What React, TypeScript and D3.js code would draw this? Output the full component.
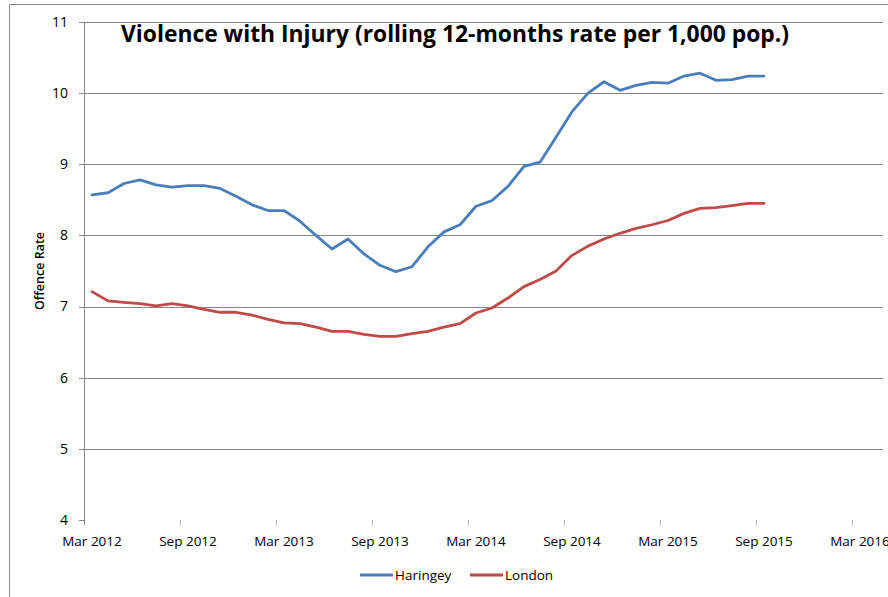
import React from "react";
import * as d3 from "d3";

const startMonth = new Date(2012, 2, 1); // Mar 2012
const haringey = [8.57, 8.60, 8.73, 8.78, 8.71, 8.68, 8.70, 8.70, 8.66, 8.55, 8.43, 8.35, 8.35, 8.20, 8.00, 7.81, 7.95, 7.74, 7.58, 7.49, 7.56, 7.84, 8.05, 8.15, 8.41, 8.49, 8.69, 8.97, 9.03, 9.38, 9.74, 10.00, 10.16, 10.04, 10.11, 10.15, 10.14, 10.24, 10.28, 10.18, 10.19, 10.24, 10.24];
const london = [7.21, 7.08, 7.06, 7.04, 7.01, 7.04, 7.01, 6.96, 6.92, 6.92, 6.88, 6.82, 6.77, 6.76, 6.71, 6.65, 6.65, 6.61, 6.58, 6.58, 6.62, 6.65, 6.71, 6.76, 6.91, 6.98, 7.12, 7.28, 7.38, 7.50, 7.72, 7.85, 7.95, 8.03, 8.10, 8.15, 8.21, 8.31, 8.38, 8.39, 8.42, 8.45, 8.45];
const xTickLabels = ["Mar 2012", "Sep 2012", "Mar 2013", "Sep 2013", "Mar 2014", "Sep 2014", "Mar 2015", "Sep 2015", "Mar 2016"];
const yTicks = [4, 5, 6, 7, 8, 9, 10, 11];
const seriesNames = ["Haringey", "London"];
const seriesColors = ["#4a7ebb", "#be4b48"];
const title = "Violence with Injury (rolling 12-months rate per 1,000 pop.)";
const yTitle = "Offence Rate";

const W = 888;
const H = 597;
const FONT = "'Open Sans', 'DejaVu Sans', sans-serif";

export default function App() {
  const months = haringey.map((_, i) => d3.timeMonth.offset(startMonth, i));
  const monthIndex = (d: Date) => d3.timeMonth.count(startMonth, d);
  const x = d3.scaleLinear().domain([0, 50]).range([84, 884]);
  const y = d3.scaleLinear().domain([4, 11]).range([520, 22]);

  const line = d3
    .line<[Date, number]>()
    .x((d) => x(monthIndex(d[0]) + 0.5))
    .y((d) => y(d[1]))
    .curve(d3.curveLinear);

  const series = [haringey, london].map((vals) =>
    vals.map((v, i) => [months[i], v] as [Date, number])
  );

  const gridColor = "#868686";

  return (
    <svg
      width={W}
      height={H}
      style={{ position: "absolute", left: 0, top: 0, background: "#fff" }}
      fontFamily={FONT}
    >
      <rect x={0} y={0} width={W} height={H} fill="#fff" />
      {/* chart border (left and top visible) */}
      <line x1={9.5} y1={4.5} x2={W} y2={4.5} stroke="#8a8a8a" strokeWidth={1} />
      <line x1={9.5} y1={4.5} x2={9.5} y2={H} stroke="#8a8a8a" strokeWidth={1} />

      {/* gridlines */}
      {yTicks
        .filter((t) => t > 4)
        .map((t) => (
          <line
            key={"g" + t}
            x1={x(0)}
            x2={x(50) - 1}
            y1={Math.round(y(t)) + 0.5}
            y2={Math.round(y(t)) + 0.5}
            stroke={gridColor}
            strokeWidth={1}
          />
        ))}
      {/* y axis */}
      <line x1={84.5} x2={84.5} y1={y(11)} y2={525} stroke={gridColor} strokeWidth={1} />
      {yTicks.map((t) => (
        <g key={"yt" + t}>
          <line x1={79} x2={84} y1={Math.round(y(t)) + 0.5} y2={Math.round(y(t)) + 0.5} stroke={gridColor} />
          <text x={68} y={y(t)} dy="0.35em" textAnchor="end" fontSize={14} fill="#000">
            {t}
          </text>
        </g>
      ))}
      {/* x ticks and labels */}
      {xTickLabels.map((lab, k) => {
        const m = k * 6;
        const px = Math.round(x(m)) + 0.5;
        return (
          <g key={"xt" + k}>
            {k > 0 && <line x1={px} x2={px} y1={520} y2={525} stroke="#b0b0b0" />}
            <text x={x(m + 0.5)} y={541} dy="0.35em" textAnchor="middle" fontSize={13.5} fill="#000">
              {lab}
            </text>
          </g>
        );
      })}

      {/* series lines */}
      {series.map((s, i) => (
        <path
          key={"s" + i}
          d={line(s) || ""}
          fill="none"
          stroke={seriesColors[i]}
          strokeWidth={2.8}
          strokeLinejoin="round"
          strokeLinecap="round"
        />
      ))}

      {/* title */}
      <text
        x={121}
        y={42}
        fontSize={22.5}
        fontWeight="bold"
        fill="#000"
        textLength={668}
        lengthAdjust="spacingAndGlyphs"
      >
        {title}
      </text>

      {/* y axis title */}
      <text
        transform={`translate(44,271) rotate(-90)`}
        textAnchor="middle"
        fontSize={12.5}
        fontWeight={600}
        fill="#000"
      >
        {yTitle}
      </text>

      {/* legend */}
      {seriesNames.map((n, i) => {
        const lx = [360, 470][i];
        return (
          <g key={"lg" + i}>
            <line x1={lx} x2={lx + 33} y1={575} y2={575} stroke={seriesColors[i]} strokeWidth={3} />
            <text x={lx + 35} y={575} dy="0.35em" fontSize={13.5} fill="#000">
              {n}
            </text>
          </g>
        );
      })}
    </svg>
  );
}
